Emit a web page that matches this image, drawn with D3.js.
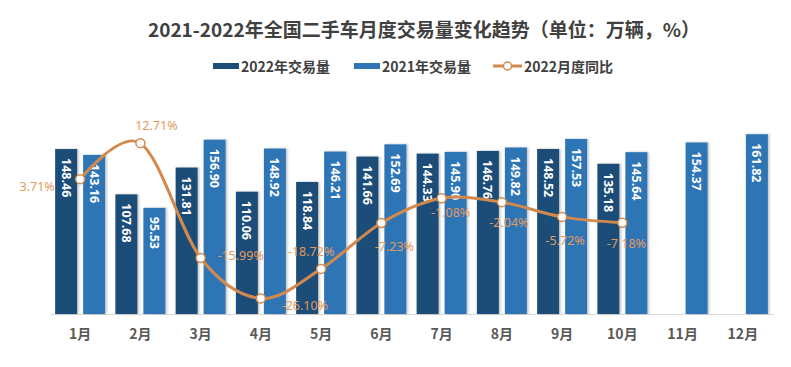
<!DOCTYPE html>
<html><head><meta charset="utf-8">
<script src="https://cdn.jsdelivr.net/npm/d3@7"></script>
<style>
html,body{margin:0;padding:0;background:#fff;}
svg{display:block;font-family:"Noto Sans CJK SC","Noto Sans",sans-serif;}
</style></head>
<body>
<svg id="chart" width="791" height="367"></svg>
<script>
const months = ["1月","2月","3月","4月","5月","6月","7月","8月","9月","10月","11月","12月"];
const sales2022 = [148.46,107.68,131.81,110.06,118.84,141.66,144.33,146.76,148.52,135.18];
const sales2021 = [143.16,95.53,156.90,148.92,146.21,152.69,145.90,149.82,157.53,145.64,154.37,161.82];
const yoy2022 = [3.71,12.71,-15.99,-26.10,-18.72,-7.23,-1.08,-2.04,-5.72,-7.18];
const seriesNames = ["2022年交易量","2021年交易量","2022月度同比"];
const chartTitle = "2021-2022年全国二手车月度交易量变化趋势（单位：万辆，%）";
// label offsets (dx, dy) for the percentage labels relative to their points
const pctLabelOffsets = [[-43,7],[16,-18],[40,-2],[44,7],[-10,-17],[13,24],[9,14],[7,20],[3,24],[4,21]];

const c22 = "#1f4e79", c21 = "#2e75b6", cLine = "#d4894c", cPct = "#e39a5e";
const svg = d3.select("#chart");
const pLeft = 50, pRight = 773, pTop = 114, pBottom = 314;

const defs = svg.append("defs");
const f = defs.append("filter").attr("id","sh").attr("x","-20%").attr("y","-5%").attr("width","150%").attr("height","110%");
f.append("feDropShadow").attr("dx",1.5).attr("dy",0).attr("stdDeviation",1).attr("flood-color","#000").attr("flood-opacity",0.25);

const x = d3.scaleBand().domain(months).range([pLeft, pRight]);
const xs = d3.scaleBand().domain(["2022","2021"]).range([0, x.bandwidth()]).paddingInner(0.214).paddingOuter(0.183);
const y = d3.scaleLinear().domain([0,180]).range([pBottom, pTop]);
const y2 = d3.scaleLinear().domain([-30,20]).range([pBottom, pTop]);

// title
svg.append("text").attr("x", 424).attr("y", 28).attr("text-anchor","middle").attr("dominant-baseline","central")
  .attr("font-size", 19).attr("font-weight","bold").attr("fill","#404040").text(chartTitle);

// legend
const lg = svg.append("g").attr("font-size",14).attr("font-weight","bold").attr("fill","#404040");
lg.append("rect").attr("x",213).attr("y",63).attr("width",26).attr("height",6).attr("fill",c22);
lg.append("text").attr("x",241).attr("y",66).attr("dominant-baseline","central").text(seriesNames[0]);
lg.append("rect").attr("x",354).attr("y",63).attr("width",26).attr("height",6).attr("fill",c21);
lg.append("text").attr("x",382).attr("y",66).attr("dominant-baseline","central").text(seriesNames[1]);
lg.append("line").attr("x1",493).attr("x2",522).attr("y1",66).attr("y2",66).attr("stroke",cLine).attr("stroke-width",3);
lg.append("circle").attr("cx",507.5).attr("cy",66).attr("r",4).attr("fill","#fff").attr("stroke",cLine).attr("stroke-width",1.5);
lg.append("text").attr("x",524).attr("y",66).attr("dominant-baseline","central").text(seriesNames[2]);

// axis
const ax = svg.append("g").attr("transform",`translate(0,${pBottom})`)
  .call(d3.axisBottom(x).tickSize(0).tickPadding(15));
ax.select(".domain").attr("stroke","#d9d9d9").attr("stroke-width",1.2);
ax.selectAll("text").attr("font-size",14).attr("font-weight","bold").attr("fill","#595959")
  .attr("font-family",'"Noto Sans CJK SC",sans-serif');

// bars
const bars = [];
sales2022.forEach((v,i)=>bars.push({m:months[i],s:"2022",v}));
sales2021.forEach((v,i)=>bars.push({m:months[i],s:"2021",v}));
const bg = svg.append("g");
bg.selectAll("rect").data(bars).join("rect")
  .attr("x", d=>x(d.m)+xs(d.s)).attr("width", xs.bandwidth())
  .attr("y", d=>y(d.v)).attr("height", d=>pBottom - y(d.v))
  .attr("fill", d=>d.s==="2022"?c22:c21).attr("filter","url(#sh)");
bg.selectAll("text").data(bars).join("text")
  .attr("transform", d=>`translate(${x(d.m)+xs(d.s)+xs.bandwidth()/2},${y(d.v)+9}) rotate(90)`)
  .attr("dominant-baseline","central").attr("fill","#fff").attr("font-size",12.5).attr("font-weight","bold")
  .attr("font-family",'"Noto Sans",sans-serif')
  .text(d=>d.v.toFixed(2));

// line
const pts = yoy2022.map((v,i)=>({x:x(months[i])+x.bandwidth()/2, y:y2(v), v, i}));
svg.append("path").datum(pts)
  .attr("d", d3.line().x(d=>d.x).y(d=>d.y).curve(d3.curveCardinal.tension(0)))
  .attr("fill","none").attr("stroke",cLine).attr("stroke-width",3);
svg.append("g").selectAll("circle").data(pts).join("circle")
  .attr("cx",d=>d.x).attr("cy",d=>d.y).attr("r",4.5).attr("fill","#fff").attr("stroke",cLine).attr("stroke-width",1.5);
svg.append("g").selectAll("text").data(pts).join("text")
  .attr("x",d=>d.x+pctLabelOffsets[d.i][0]).attr("y",d=>d.y+pctLabelOffsets[d.i][1])
  .attr("text-anchor","middle").attr("dominant-baseline","central")
  .attr("font-size",12.5).attr("fill",cPct).attr("font-family",'"Noto Sans",sans-serif')
  .text(d=>d.v.toFixed(2)+"%");
</script>
</body></html>
